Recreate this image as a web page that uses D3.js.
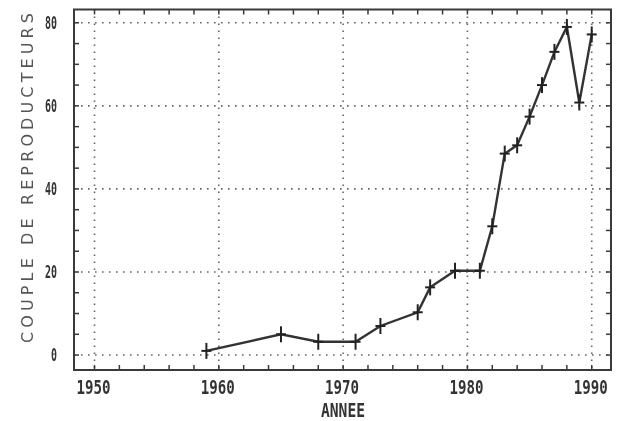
<!DOCTYPE html>
<html><head><meta charset="utf-8">
<script src="https://cdn.jsdelivr.net/npm/d3@7"></script>
<style>
html,body{margin:0;padding:0;background:#fff;}
svg{display:block;filter:blur(0.45px);}
</style></head>
<body>
<svg id="c" width="628" height="421"></svg>
<script>
const years  = [1959, 1965, 1968, 1971, 1973, 1976, 1977, 1979, 1981, 1982, 1983, 1984, 1985, 1986, 1987, 1988, 1989, 1990];
const couples = [1, 5, 3.2, 3.2, 7, 10.3, 16.3, 20.3, 20.3, 31, 48.5, 50.5, 57.4, 65, 73, 79, 60.8, 77.2];
const xTicks = [1950, 1960, 1970, 1980, 1990];
const yTicks = [0, 20, 40, 60, 80];
const xLabel = "ANNEE";
const yLabel = "COUPLE DE REPRODUCTEURS";

const svg = d3.select("#c");
const x = d3.scaleLinear().domain([1948.35, 1991.55]).range([74, 611]);
const y = d3.scaleLinear().domain([-3.6, 83.2]).range([370, 9.5]);
const [x0, x1] = x.range(), [y0, y1] = y.range();

const ink = "#3a3a3a";
const grid = svg.append("g").attr("stroke", "#666").attr("stroke-width", 1.6)
  .attr("stroke-dasharray", "1.6,5.4");
grid.selectAll(".gh").data(yTicks).join("line")
  .attr("x1", x0).attr("x2", x1).attr("y1", d => y(d)).attr("y2", d => y(d));
grid.selectAll(".gv").data(xTicks).join("line")
  .attr("x1", d => x(d)).attr("x2", d => x(d)).attr("y1", y1).attr("y2", y0);

// minor ticks (inward, all four sides)
const xMinor = d3.range(1950, 1991, 2);
const yMinor = d3.range(0, 81, 5);
const tk = svg.append("g").attr("stroke", ink).attr("stroke-width", 1.5);
tk.selectAll(".tb").data(xMinor).join("line")
  .attr("x1", d => x(d)).attr("x2", d => x(d)).attr("y1", y0).attr("y2", y0 - 5);
tk.selectAll(".tt").data(xMinor).join("line")
  .attr("x1", d => x(d)).attr("x2", d => x(d)).attr("y1", y1).attr("y2", y1 + 5);
tk.selectAll(".tl").data(yMinor).join("line")
  .attr("x1", x0).attr("x2", x0 + 5).attr("y1", d => y(d)).attr("y2", d => y(d));
tk.selectAll(".tr").data(yMinor).join("line")
  .attr("x1", x1).attr("x2", x1 - 5).attr("y1", d => y(d)).attr("y2", d => y(d));

// frame
svg.append("rect").attr("x", x0).attr("y", y1).attr("width", x1 - x0).attr("height", y0 - y1)
  .attr("fill", "none").attr("stroke", ink).attr("stroke-width", 2);

// data line
const pts = years.map((d, i) => [d, couples[i]]);
svg.append("path").datum(pts)
  .attr("d", d3.line().x(d => x(d[0])).y(d => y(d[1])))
  .attr("fill", "none").attr("stroke", "#333").attr("stroke-width", 2.4);
const mk = svg.append("g").attr("stroke", "#222").attr("stroke-width", 2);
mk.selectAll(".mv").data(pts).join("line")
  .attr("x1", d => x(d[0])).attr("x2", d => x(d[0]))
  .attr("y1", d => y(d[1]) - 8).attr("y2", d => y(d[1]) + 8);
mk.selectAll(".mh").data(pts).join("line")
  .attr("x1", d => x(d[0]) - 5).attr("x2", d => x(d[0]) + 5)
  .attr("y1", d => y(d[1])).attr("y2", d => y(d[1]));

// tick labels
const lf = "'DejaVu Sans Mono', monospace";
svg.append("g").selectAll("text").data(xTicks).join("text")
  .attr("x", d => x(d) - 1).attr("y", 394)
  .attr("text-anchor", "middle").attr("font-family", lf).attr("font-weight", "bold")
  .attr("font-size", 20).attr("fill", "#333")
  .attr("textLength", 34).attr("lengthAdjust", "spacingAndGlyphs")
  .text(d => d);
svg.append("g").selectAll("text").data(yTicks).join("text")
  .attr("x", 57).attr("y", d => y(d) + 6)
  .attr("text-anchor", "end").attr("font-family", lf).attr("font-weight", "bold")
  .attr("font-size", 18).attr("fill", "#333")
  .attr("textLength", d => String(d).length * 6).attr("lengthAdjust", "spacingAndGlyphs")
  .text(d => d);

svg.append("text").attr("x", 343).attr("y", 417).attr("text-anchor", "middle")
  .attr("font-family", lf).attr("font-weight", "bold").attr("font-size", 19).attr("fill", "#333")
  .attr("textLength", 44).attr("lengthAdjust", "spacingAndGlyphs").text(xLabel);

svg.append("text").attr("transform", "translate(33,178) rotate(-90)")
  .attr("text-anchor", "middle").attr("font-family", "'DejaVu Sans', sans-serif")
  .attr("font-size", 16).attr("fill", "#555")
  .attr("textLength", 330).attr("lengthAdjust", "spacing").text(yLabel);
</script>
</body></html>
